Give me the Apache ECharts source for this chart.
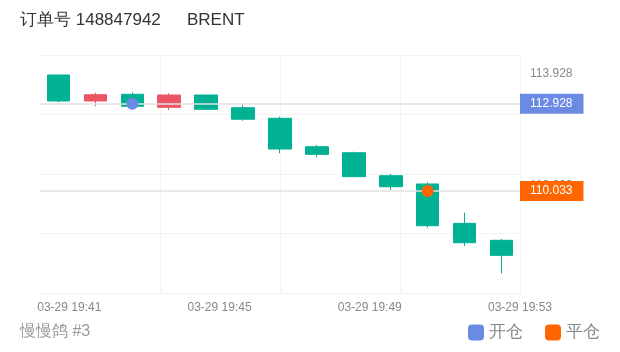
<!DOCTYPE html>
<html>
<head>
<meta charset="utf-8">
<script src="https://cdn.jsdelivr.net/npm/echarts@6/dist/echarts.min.js"></script>
<style>
  html, body { margin: 0; padding: 0; background: #fff; }
  #main { width: 620px; height: 352px; }
</style>
</head>
<body>
<div id="main"></div>
<script>
// 每根K线一分钟
var times = ['19:41', '19:42', '19:43', '19:44', '19:45', '19:46', '19:47',
             '19:48', '19:49', '19:50', '19:51', '19:52', '19:53'];
var opens  = [113.880, 113.018, 113.240, 112.809, 113.216, 112.795, 112.444, 111.502, 111.303, 110.541, 110.266, 108.962, 108.399];
var closes = [113.018, 113.226, 112.842, 113.216, 112.742, 112.414, 111.426, 111.250, 110.508, 110.176, 108.883, 108.319, 107.901];
var lows   = [112.974, 112.842, 112.842, 112.719, 112.742, 112.364, 111.283, 111.151, 110.508, 110.067, 108.817, 108.210, 107.305];
var highs  = [113.880, 113.293, 113.306, 113.273, 113.216, 112.885, 112.497, 111.559, 111.337, 110.597, 110.322, 109.314, 108.442];

// 开仓 / 平仓
var openIndex = 2, openPrice = 112.928;
var closeIndex = 10, closePrice = 110.033;

// 右侧刻度
var priceTicks = [113.928, 110.200];
// 底部时间刻度 (分钟, 相对 19:41)
var timeTickPos = [0, 4, 8, 12];
var timeTickLabels = ['03-29 19:41', '03-29 19:45', '03-29 19:49', '03-29 19:53'];

var green = '#00b194', red = '#eb5565', blue = '#6b8ae3', orange = '#ff6600';

var candles = [];
for (var i = 0; i < times.length; i++) {
  candles.push([opens[i], closes[i], lows[i], highs[i]]);
}

var myChart = echarts.init(document.getElementById('main'));
var option = {
  animation: false,
  title: [{
    text: '订单号 148847942',
    left: 20, top: 12, padding: 0,
    textStyle: { fontSize: 17, fontWeight: 'normal', color: '#333' }
  }, {
    text: 'BRENT',
    left: 187, top: 12, padding: 0,
    textStyle: { fontSize: 17, fontWeight: 'normal', color: '#333' }
  }, {
    text: '慢慢鸽 #3',
    left: 20, top: 324, padding: 0,
    textStyle: { fontSize: 16, fontWeight: 'normal', color: '#999' }
  }],
  legend: {
    data: ['开仓', '平仓'],
    right: 20, top: 324, padding: 0,
    icon: 'roundRect',
    itemWidth: 16, itemHeight: 16, itemGap: 22,
    textStyle: { fontSize: 17, color: '#888' }
  },
  grid: { left: 40, right: 100, top: 55, bottom: 59 },
  xAxis: [{
    type: 'category',
    position: 'bottom',
    data: times,
    boundaryGap: true,
    axisLine: { show: false },
    axisTick: { show: false },
    axisLabel: { show: false },
    splitLine: { show: false }
  }, {
    type: 'value',
    position: 'bottom',
    min: -0.78, max: 12,
    axisLine: { show: true, lineStyle: { color: '#f2f2f2' } },
    axisTick: { show: false },
    splitLine: { show: false },
    axisLabel: {
      customValues: timeTickPos,
      color: '#888', fontSize: 12, margin: 9,
      formatter: function (v) { return timeTickLabels[timeTickPos.indexOf(v)]; }
    }
  }, {
    // 竖向网格线
    type: 'category',
    position: 'top',
    data: ['', '', '', '', ''],
    boundaryGap: false,
    axisLine: { show: false },
    axisTick: { show: false },
    axisLabel: { show: false },
    splitLine: {
      show: true,
      interval: function (idx) { return idx > 0; },
      lineStyle: { color: '#f3f3f3' }
    }
  }],
  yAxis: [{
    type: 'value',
    position: 'right',
    min: 106.652, max: 114.543,
    axisLine: { show: false },
    axisTick: { show: false },
    splitLine: { show: false },
    axisLabel: {
      customValues: priceTicks,
      color: '#888', fontSize: 12, margin: 10,
      formatter: function (v) { return v.toFixed(3); }
    }
  }, {
    type: 'value',
    position: 'left',
    min: 0, max: 4, interval: 1,
    axisLine: { show: false },
    axisTick: { show: false },
    axisLabel: { show: false },
    splitLine: { show: true, lineStyle: { color: '#f3f3f3' } }
  }],
  series: [{
    name: 'k',
    type: 'candlestick',
    xAxisIndex: 0, yAxisIndex: 0,
    barWidth: 23,
    data: candles,
    itemStyle: {
      color: red, color0: green,
      borderColor: red, borderColor0: green
    },
    markLine: {
      symbol: 'none',
      silent: true,
      lineStyle: { color: '#e2e2e2', width: 1.5, type: 'solid' },
      label: {
        position: 'end', distance: 0,
        color: '#fff', fontSize: 12, lineHeight: 14,
        padding: [3, 11, 3, 10]
      },
      data: [
        { yAxis: openPrice, label: { backgroundColor: blue, formatter: openPrice.toFixed(3) } },
        { yAxis: closePrice, label: { backgroundColor: orange, formatter: closePrice.toFixed(3) } }
      ]
    }
  }, {
    name: '开仓',
    type: 'scatter',
    xAxisIndex: 0, yAxisIndex: 0,
    symbolSize: 12,
    z: 5,
    itemStyle: { color: blue, opacity: 1 },
    data: [[openIndex, openPrice]]
  }, {
    name: '平仓',
    type: 'scatter',
    xAxisIndex: 0, yAxisIndex: 0,
    symbolSize: 12,
    z: 5,
    itemStyle: { color: orange, opacity: 1 },
    data: [[closeIndex, closePrice]]
  }]
};

myChart.setOption(option);
</script>
</body>
</html>
